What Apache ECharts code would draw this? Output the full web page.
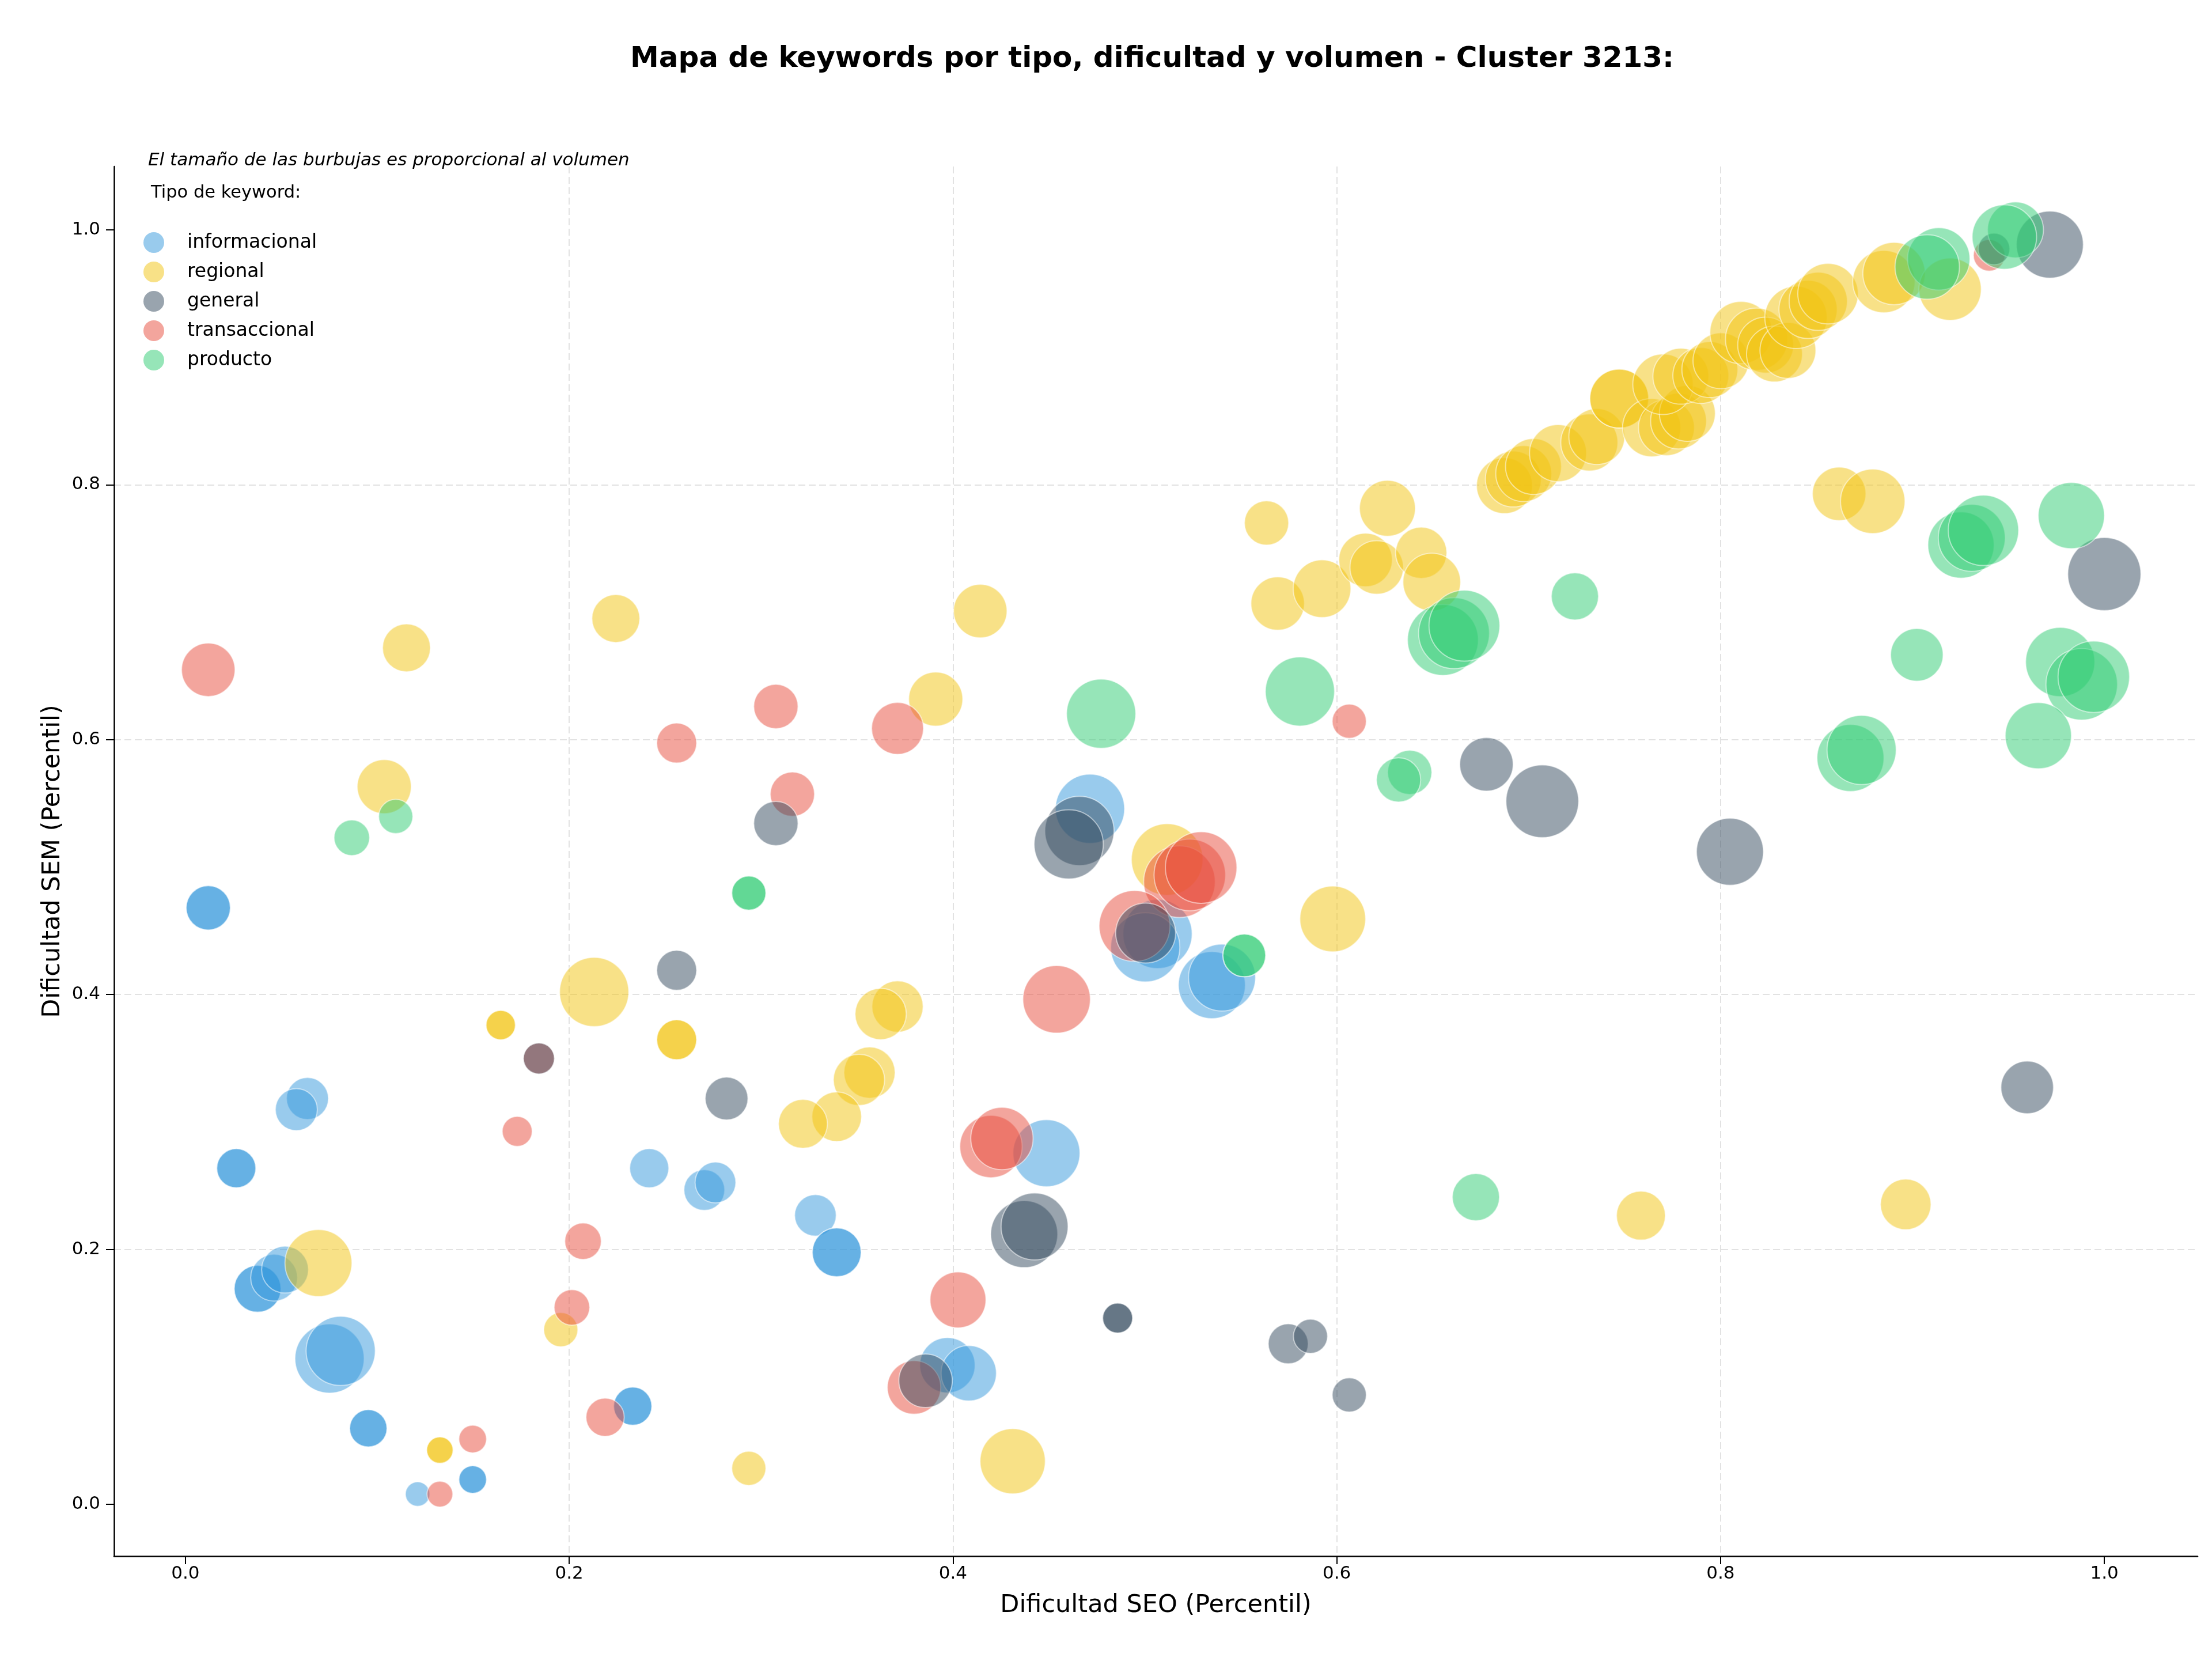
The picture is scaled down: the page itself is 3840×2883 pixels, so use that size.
<!DOCTYPE html>
<html>
<head>
<meta charset="utf-8">
<script src="https://cdn.jsdelivr.net/npm/echarts@6/dist/echarts.min.js"></script>
<style>
html,body{margin:0;padding:0;background:#fff;}
#chart{width:3840px;height:2883px;}
</style>
</head>
<body>
<div id="chart"></div>
<script>
// ---------- DATA (SEO percentil, SEM percentil, volumen relativo) ----------
const categories = ['informacional', 'regional', 'general', 'transaccional', 'producto'];
const tickValues = [0, 0.2, 0.4, 0.6, 0.8, 1.0];

const infoSEO = [0.0119,0.0119,0.0636,0.0578,0.0265,0.0265,0.2417,0.2704,0.2762,0.0376,0.0376,0.0462,0.0519,0.0751,0.0809,0.2331,0.2331,0.0953,0.0953,0.1497,0.1497,0.121,0.3283,0.3394,0.3394,0.4487,0.3971,0.4082,0.4714,0.5066,0.5002,0.5349,0.5402];
const infoSEM = [0.468,0.468,0.3184,0.3097,0.2637,0.2637,0.2637,0.2466,0.2525,0.1691,0.1691,0.1778,0.1841,0.1144,0.1203,0.077,0.077,0.0596,0.0596,0.0194,0.0194,0.008,0.2267,0.1977,0.1977,0.2755,0.1091,0.1028,0.5457,0.4475,0.437,0.4074,0.4133];
const infoVol = [59,59,53,53,46,46,46,50,50,66,66,66,66,144,144,44,44,42,42,23,23,18,52,72,72,135,92,92,144,144,144,135,135];

const regSEO = [0.213,0.1643,0.1643,0.256,0.256,0.0693,0.1956,0.1326,0.1326,0.2936,0.1152,0.2243,0.1036,0.4142,0.391,0.5634,0.6264,0.5692,0.5923,0.615,0.6208,0.644,0.6495,0.5116,0.5979,0.3711,0.3623,0.3565,0.351,0.3394,0.3218,0.4311,0.7585,0.8965,0.8618,0.8793,
  0.6874,0.692,0.6974,0.7025,0.7153,0.7316,0.7355,0.7472,0.7472,0.7641,0.7718,0.7781,0.7827,0.77,0.7793,0.7897,0.7944,0.8002,0.8107,0.8188,0.8235,0.8281,0.8351,0.8393,0.8456,0.8509,0.856,0.8851,0.8904,0.9196];
const regSEM = [0.402,0.376,0.376,0.3645,0.3645,0.1893,0.137,0.0425,0.0425,0.0282,0.672,0.695,0.5631,0.7009,0.6318,0.77,0.7815,0.7068,0.7184,0.741,0.7351,0.7466,0.7236,0.5059,0.4593,0.3906,0.3847,0.3387,0.333,0.3041,0.2985,0.0338,0.2265,0.2353,0.7929,0.787,
  0.7993,0.8045,0.8087,0.8143,0.8248,0.8332,0.8378,0.8676,0.8676,0.8448,0.8448,0.85,0.856,0.8788,0.8851,0.8857,0.8903,0.8973,0.9194,0.9142,0.9096,0.9026,0.9054,0.9313,0.9376,0.9439,0.9499,0.9594,0.9657,0.9534];
const regVol = [144,26,26,48,48,135,35,21,21,35,69,69,88,86,88,59,94,86,100,86,86,79,100,154,130,79,79,79,79,74,72,128,72,77,86,125,
  94,94,94,94,98,98,94,104,104,102,94,94,94,110,94,94,94,94,117,117,94,94,94,117,102,102,110,117,117,117];

const genSEO = [0.256,0.282,0.1842,0.3077,0.4659,0.4603,0.5004,0.678,0.7071,0.8049,0.4371,0.4425,0.4858,0.4858,0.5747,0.5863,0.6065,0.3857,0.9598,1.0,0.9716,0.9425];
const genSEM = [0.419,0.3184,0.3498,0.5342,0.5283,0.5178,0.4482,0.5806,0.5516,0.512,0.212,0.218,0.1461,0.1461,0.1259,0.1318,0.0858,0.0969,0.3271,0.7299,0.9884,0.985];
const genVol = [48,55,29,59,144,144,108,86,159,135,135,135,27,27,48,35,35,86,83,161,135,30];

const traSEO = [0.0119,0.3077,0.256,0.3163,0.3711,0.6065,0.1842,0.1729,0.2072,0.2014,0.2187,0.1497,0.1326,0.518,0.5234,0.5293,0.4946,0.454,0.4198,0.4255,0.4026,0.3797,0.94];
const traSEM = [0.6548,0.626,0.5973,0.5572,0.6088,0.6144,0.3498,0.2926,0.2064,0.1545,0.0683,0.0512,0.008,0.4885,0.4938,0.4996,0.4538,0.3962,0.2807,0.287,0.1604,0.0917,0.98];
const traVol = [86,59,48,59,81,35,29,27,40,38,44,23,20,154,154,154,151,137,117,117,94,86,30];

const proSEO = [0.2936,0.2936,0.5518,0.5518,0.1096,0.0867,0.4772,0.5808,0.6553,0.6611,0.6665,0.638,0.6322,0.6725,0.7241,0.9828,0.9253,0.9309,0.937,0.9023,0.977,0.9882,0.9945,0.9656,0.8677,0.8735,0.9137,0.9077,0.9537,0.9479];
const proSEM = [0.4796,0.4796,0.4307,0.4307,0.5397,0.523,0.6203,0.6378,0.6782,0.6835,0.6894,0.5743,0.5684,0.241,0.7124,0.7758,0.7527,0.7583,0.7642,0.6665,0.6609,0.6434,0.6493,0.6031,0.5856,0.5919,0.9772,0.9709,1.0,0.9944];
const proVol = [35,35,55,55,35,38,144,144,151,151,151,59,59,67,67,132,132,135,149,83,144,154,154,132,135,144,117,125,94,125];

// ---------- CHART ----------
const colors = {
  informacional: '#3498db',
  regional: '#f1c40f',
  general: '#34495e',
  transaccional: '#e74c3c',
  producto: '#2ecc71'
};
const FONT = 'DejaVu Sans';

function pts(xs, ys, vs) { return xs.map((x, i) => [x, ys[i], vs[i]]); }

function mkSeries(name, xs, ys, vs) {
  return {
    name: name,
    type: 'scatter',
    data: pts(xs, ys, vs),
    symbol: 'circle',
    symbolSize: v => 10 * Math.sqrt(v[2]),
    itemStyle: { color: colors[name], opacity: 0.5, borderColor: '#ffffff', borderWidth: 2 },
    emphasis: { disabled: true },
    animation: false
  };
}

const gridStyle = { color: '#e2e2e2', width: 2, type: [12, 6] };

const chart = echarts.init(document.getElementById('chart'), null, { renderer: 'canvas' });
chart.setOption({
  backgroundColor: '#ffffff',
  animation: false,
  textStyle: { fontFamily: FONT },
  grid: { left: 198, top: 289, width: 3617, height: 2412, containLabel: false },
  xAxis: {
    type: 'value', min: -0.0372, max: 1.0486,
    name: 'Dificultad SEO (Percentil)', nameLocation: 'middle', nameGap: 64,
    nameTextStyle: { fontSize: 43, color: '#000', fontFamily: FONT },
    axisLine: { show: true, onZero: false, lineStyle: { color: '#000', width: 2.5 } },
    axisTick: { show: true, length: 14, customValues: tickValues, lineStyle: { color: '#000', width: 2 } },
    axisLabel: { customValues: tickValues, fontSize: 31, color: '#000', margin: 15, fontFamily: FONT, formatter: v => Number(v).toFixed(1) },
    splitLine: { show: true, showMinLine: false, showMaxLine: false, lineStyle: gridStyle }
  },
  yAxis: {
    type: 'value', min: -0.0407, max: 1.0497,
    name: 'Dificultad SEM (Percentil)', nameLocation: 'middle', nameGap: 84,
    nameTextStyle: { fontSize: 43, color: '#000', fontFamily: FONT },
    axisLine: { show: true, onZero: false, lineStyle: { color: '#000', width: 2.5 } },
    axisTick: { show: true, length: 14, customValues: tickValues, lineStyle: { color: '#000', width: 2 } },
    axisLabel: { customValues: tickValues, fontSize: 31, color: '#000', margin: 24, fontFamily: FONT, formatter: v => Number(v).toFixed(1) },
    splitLine: { show: true, showMinLine: false, showMaxLine: false, lineStyle: gridStyle }
  },
  legend: {
    data: categories,
    orient: 'vertical',
    left: 244, top: 398,
    itemWidth: 106, itemHeight: 36, itemGap: 15,
    icon: 'circle',
    selectedMode: false,
    itemStyle: { opacity: 0.5, borderWidth: 0 },
    textStyle: { fontSize: 33, color: '#000', fontFamily: FONT }
  },
  graphic: [
    { type: 'text', x: 2000, y: 103, style: { text: 'Mapa de keywords por tipo, dificultad y volumen - Cluster 3213:', font: 'bold 50px "DejaVu Sans"', fill: '#000', textAlign: 'center', textVerticalAlign: 'middle' } },
    { type: 'text', x: 257, y: 279, style: { text: 'El tamaño de las burbujas es proporcional al volumen', font: 'italic 31px "DejaVu Sans"', fill: '#000', textAlign: 'left', textVerticalAlign: 'middle' } },
    { type: 'text', x: 262, y: 335, style: { text: 'Tipo de keyword:', font: '30.5px "DejaVu Sans"', fill: '#000', textAlign: 'left', textVerticalAlign: 'middle' } }
  ],
  series: [
    mkSeries('informacional', infoSEO, infoSEM, infoVol),
    mkSeries('regional', regSEO, regSEM, regVol),
    mkSeries('transaccional', traSEO, traSEM, traVol),
    mkSeries('general', genSEO, genSEM, genVol),
    mkSeries('producto', proSEO, proSEM, proVol)
  ]
});
</script>
</body>
</html>
